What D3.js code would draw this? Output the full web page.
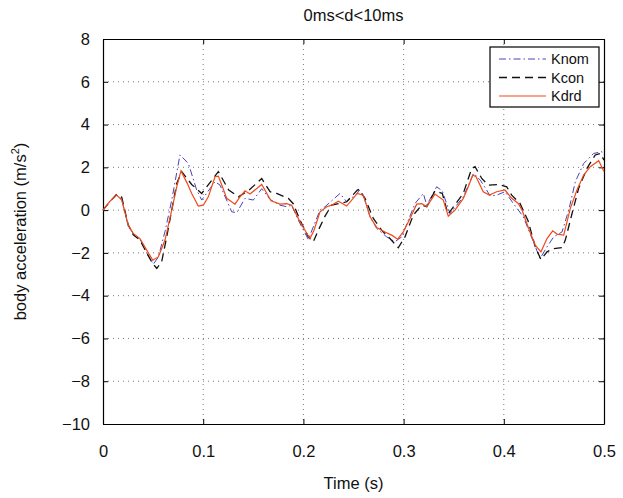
<!DOCTYPE html>
<html>
<head>
<meta charset="utf-8">
<script src="https://cdn.jsdelivr.net/npm/d3@7/dist/d3.min.js"></script>
<style>
  body { margin: 0; background: #fff; }
  svg { display: block; font-family: "Liberation Sans", Arial, sans-serif; }
</style>
</head>
<body>
<div id="chart"></div>
<script>
var seriesNames = ['Knom', 'Kcon', 'Kdrd'];

var knomTime = [0, 0.007, 0.0137, 0.0187, 0.0252, 0.0302, 0.0369, 0.0436, 0.0502, 0.0552, 0.0619, 0.0686, 0.0768, 0.0852, 0.0935, 0.0985, 0.1118, 0.1168, 0.1285, 0.1335, 0.1417, 0.15, 0.1584, 0.1667, 0.1766, 0.1833, 0.1883, 0.1949, 0.2049, 0.2166, 0.2216, 0.2365, 0.2432, 0.2538, 0.2555, 0.2598, 0.2665, 0.2732, 0.2831, 0.2914, 0.2981, 0.3047, 0.3114, 0.3197, 0.3231, 0.333, 0.3386, 0.3463, 0.3596, 0.3699, 0.3766, 0.3865, 0.3929, 0.4012, 0.4095, 0.4195, 0.4235, 0.4295, 0.4362, 0.4431, 0.4498, 0.4581, 0.4648, 0.4714, 0.4797, 0.4897, 0.498, 0.5];
var knomValues = [0, 0.42, 0.7, 0.5, -0.75, -1.1, -1.35, -2.0, -2.53, -2.2, -1.0, 0.47, 2.58, 2.18, 0.94, 0.47, 1.33, 1.17, -0.08, -0.12, 0.55, 0.47, 1.0, 0.5, 0.23, 0.16, 0.23, -0.47, -1.37, 0.0, 0.16, 0.78, 0.39, 0.78, 0.94, 0.7, -0.31, -0.86, -1.25, -1.48, -1.25, -0.47, 0.31, 0.78, 0.23, 1.09, 0.9, -0.16, 0.62, 1.72, 1.4, 0.66, 0.7, 0.86, 0.31, -0.31, -0.78, -1.48, -2.26, -1.72, -1.25, -1.02, 0, 1.33, 2.18, 2.65, 2.73, 2.58];

var kconTime = [0, 0.007, 0.0137, 0.0187, 0.0252, 0.0302, 0.0369, 0.0436, 0.0496, 0.0537, 0.0586, 0.0636, 0.0686, 0.0736, 0.0785, 0.0885, 0.0985, 0.1151, 0.1255, 0.1351, 0.145, 0.1584, 0.1667, 0.1733, 0.1849, 0.1899, 0.1966, 0.2049, 0.2099, 0.2149, 0.2216, 0.2282, 0.2432, 0.2538, 0.2555, 0.2615, 0.2698, 0.2781, 0.2864, 0.2947, 0.3014, 0.3097, 0.3181, 0.3231, 0.3313, 0.3386, 0.3443, 0.3596, 0.368, 0.3713, 0.378, 0.3846, 0.3945, 0.4029, 0.4079, 0.4162, 0.4242, 0.4314, 0.4371, 0.4431, 0.4498, 0.4581, 0.4614, 0.4681, 0.4747, 0.483, 0.4913, 0.4963, 0.5];
var kconValues = [0, 0.4, 0.75, 0.6, -0.7, -1.15, -1.4, -2.0, -2.5, -2.73, -2.4, -1.25, 0, 1.25, 1.8, 1.2, 0.78, 1.8, 0.94, 0.62, 0.9, 1.48, 0.86, 0.78, 0.55, 0.3, -0.47, -1.25, -1.48, -0.94, -0.28, 0.23, 0.39, 0.94, 0.97, 0.55, -0.39, -0.94, -1.33, -1.76, -1.25, -0.23, 0.23, 0.16, 0.9, 0.78, -0.19, 0.78, 1.95, 2.03, 1.48, 1.17, 1.2, 1.09, 0.7, 0.31, -0.5, -1.72, -2.31, -1.95, -1.8, -1.75, -1.4, -0.16, 1.02, 1.95, 2.58, 2.65, 2.34];

var kdrdTime = [0, 0.007, 0.0137, 0.0187, 0.0252, 0.0302, 0.0369, 0.0436, 0.0496, 0.0552, 0.0619, 0.0686, 0.0736, 0.0778, 0.0841, 0.0885, 0.0951, 0.1001, 0.1051, 0.1118, 0.1151, 0.1185, 0.1235, 0.1317, 0.1367, 0.1417, 0.1467, 0.1584, 0.1677, 0.1766, 0.1833, 0.1883, 0.1966, 0.2016, 0.2066, 0.2106, 0.2166, 0.2233, 0.2282, 0.2348, 0.2432, 0.2538, 0.2598, 0.2665, 0.2732, 0.2814, 0.2881, 0.2941, 0.2997, 0.3064, 0.3131, 0.3181, 0.3231, 0.3313, 0.3396, 0.3446, 0.3513, 0.3596, 0.3646, 0.369, 0.3723, 0.3795, 0.3855, 0.3929, 0.4012, 0.4079, 0.4145, 0.4182, 0.4248, 0.4314, 0.4371, 0.4431, 0.4488, 0.4531, 0.4598, 0.4664, 0.473, 0.4797, 0.4863, 0.4947, 0.5];
var kdrdValues = [0, 0.42, 0.7, 0.47, -0.7, -1.09, -1.33, -1.87, -2.34, -2.19, -1.4, 0, 1.09, 1.83, 1.25, 0.78, 0.19, 0.23, 0.62, 1.56, 1.59, 1.17, 0.55, 0.28, 0.62, 0.9, 0.75, 1.2, 0.44, 0.28, 0.3, 0.23, -0.55, -0.94, -1.33, -0.94, -0.08, 0.16, 0.23, 0.42, 0.19, 0.78, 0.7, -0.31, -0.81, -1.02, -1.17, -1.36, -1.02, -0.39, 0.28, 0.3, 0.16, 0.75, 0.47, -0.28, 0, 0.55, 1.09, 1.64, 1.56, 0.86, 0.7, 0.86, 0.94, 0.55, 0.31, 0, -0.86, -1.64, -1.95, -1.33, -0.97, -1.12, -1.17, 0.08, 0.94, 1.64, 2.03, 2.31, 1.8];

var xTicks = [0, 0.1, 0.2, 0.3, 0.4, 0.5];
var yTicks = [-10, -8, -6, -4, -2, 0, 2, 4, 6, 8];

var width = 623, height = 498;
var margin = {top: 39, right: 19, bottom: 74, left: 103};

var svg = d3.select('#chart').append('svg')
  .attr('width', width)
  .attr('height', height);

var x = d3.scaleLinear().domain([0, 0.5]).range([margin.left, width - margin.right]);
var y = d3.scaleLinear().domain([-10, 8]).range([height - margin.bottom, margin.top]);

// grid
var grid = svg.append('g')
  .attr('stroke', '#000')
  .attr('stroke-width', 0.7)
  .attr('stroke-dasharray', '1,4')
  .attr('opacity', 0.75);

grid.selectAll('.gx')
  .data(xTicks.slice(1, -1)).enter()
  .append('line')
  .attr('x1', function (d) { return x(d); })
  .attr('x2', function (d) { return x(d); })
  .attr('y1', y(8))
  .attr('y2', y(-10));

grid.selectAll('.gy')
  .data(yTicks.slice(1, -1)).enter()
  .append('line')
  .attr('y1', function (d) { return y(d); })
  .attr('y2', function (d) { return y(d); })
  .attr('x1', x(0))
  .attr('x2', x(0.5));

// axes with inward ticks
var fmtY = function (d) { return d < 0 ? '\u2212' + Math.abs(d) : String(d); };

svg.append('g')
  .attr('transform', 'translate(0,' + y(-10) + ')')
  .call(d3.axisBottom(x).tickValues(xTicks).tickSizeInner(-5).tickSizeOuter(0).tickPadding(21)
    .tickFormat(function (d) { return String(d); }));

svg.append('g')
  .attr('transform', 'translate(0,' + y(8) + ')')
  .call(d3.axisTop(x).tickValues(xTicks).tickSizeInner(-5).tickSizeOuter(0).tickFormat(''));

svg.append('g')
  .attr('transform', 'translate(' + x(0) + ',0)')
  .call(d3.axisLeft(y).tickValues(yTicks).tickSizeInner(-5).tickSizeOuter(0).tickPadding(13)
    .tickFormat(fmtY));

svg.append('g')
  .attr('transform', 'translate(' + x(0.5) + ',0)')
  .call(d3.axisRight(y).tickValues(yTicks).tickSizeInner(-5).tickSizeOuter(0).tickFormat(''));

svg.selectAll('.domain').attr('stroke', '#000').attr('stroke-width', 1.2);
svg.selectAll('.tick line').attr('stroke', '#000');
svg.selectAll('.tick text')
  .attr('font-size', 16.5)
  .attr('font-family', '"Liberation Sans", Arial, sans-serif')
  .attr('fill', '#111');

// lines
var seriesData = [
  {name: 'Knom', time: knomTime, values: knomValues, color: '#4444bb', dash: '7,3,1.5,3', width: 1},
  {name: 'Kcon', time: kconTime, values: kconValues, color: '#111', dash: '8,5', width: 1.3},
  {name: 'Kdrd', time: kdrdTime, values: kdrdValues, color: '#f04a1a', dash: null, width: 1.2}
];

var line = d3.line()
  .x(function (d) { return x(d[0]); })
  .y(function (d) { return y(d[1]); });

seriesData.forEach(function (s) {
  svg.append('path')
    .datum(d3.zip(s.time, s.values))
    .attr('fill', 'none')
    .attr('stroke', s.color)
    .attr('stroke-width', s.width)
    .attr('stroke-dasharray', s.dash)
    .attr('d', line);
});

// title + labels
svg.append('text')
  .text('0ms<d<10ms')
  .attr('x', (x(0) + x(0.5)) / 2)
  .attr('y', 21)
  .attr('text-anchor', 'middle')
  .attr('font-size', 16.5)
  .attr('fill', '#111');

svg.append('text')
  .text('Time (s)')
  .attr('x', (x(0) + x(0.5)) / 2)
  .attr('y', 489)
  .attr('text-anchor', 'middle')
  .attr('font-size', 16.5)
  .attr('fill', '#111');

var yLabel = svg.append('text')
  .attr('transform', 'translate(26,' + (y(8) + y(-10)) / 2 + ') rotate(-90)')
  .attr('text-anchor', 'middle')
  .attr('font-size', 16.5)
  .attr('fill', '#111');
yLabel.append('tspan').text('body acceleration (m/s');
yLabel.append('tspan').text('2').attr('font-size', 11).attr('dy', -7);
yLabel.append('tspan').text(')').attr('dy', 7);

// legend
var legend = svg.append('g').attr('transform', 'translate(490,47)');
legend.append('rect')
  .attr('width', 109)
  .attr('height', 60)
  .attr('fill', '#fff')
  .attr('stroke', '#000')
  .attr('stroke-width', 1.2);

seriesData.forEach(function (s, i) {
  var ly = 12 + i * 18.5;
  legend.append('line')
    .attr('x1', 9).attr('x2', 56)
    .attr('y1', ly).attr('y2', ly)
    .attr('stroke', s.color)
    .attr('stroke-width', s.width)
    .attr('stroke-dasharray', s.dash);
  legend.append('text')
    .text(s.name)
    .attr('x', 61)
    .attr('y', ly + 5)
    .attr('font-size', 14.5)
    .attr('fill', '#111');
});
</script>
</body>
</html>
